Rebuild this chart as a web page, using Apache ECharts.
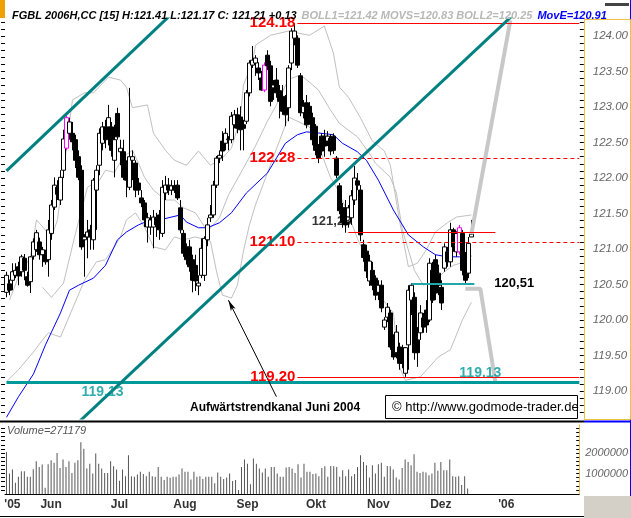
<!DOCTYPE html>
<html><head><meta charset="utf-8">
<script src="https://cdn.jsdelivr.net/npm/echarts@6/dist/echarts.min.js"></script>
<style>html,body{margin:0;padding:0;background:#fff;}#c{width:631px;height:518px;}</style>
</head><body><div id="c"></div><script>
// ---------- DATA ----------
const N = 193; // category slots (trading days + future space)
const monthTicks = [[2,"'05"],[15,'Jun'],[38,'Jul'],[60,'Aug'],[81,'Sep'],[104,'Okt'],[125,'Nov'],[146,'Dez'],[168,"'06"]];
const priceLabels = [119,119.5,120,120.5,121,121.5,122,122.5,123,123.5,124];
const volLabels = [1000000,2000000];

const opens = [120.39,120.51,120.56,120.63,120.75,120.68,120.87,120.61,120.54,120.90,
120.99,121.10,120.92,120.92,120.85,121.22,121.59,121.87,121.69,122.11,
122.42,122.63,122.63,122.54,122.30,122.11,121.13,121.17,121.27,121.13,
121.83,122.18,122.49,122.72,122.72,122.72,122.25,122.91,122.37,122.37,
122.18,121.87,122.25,122.21,121.93,121.72,121.65,121.31,121.31,121.31,
121.44,121.48,121.22,121.79,121.90,121.83,121.89,121.90,121.58,121.22,
121.03,121.03,120.85,120.77,120.48,120.63,120.63,121.13,121.44,121.48,
121.90,122.28,122.52,122.49,122.54,122.54,122.75,122.89,122.86,122.75,
122.80,123.20,123.59,123.62,123.55,123.41,123.24,123.73,123.58,123.27,
123.38,123.23,123.15,123.08,122.99,123.62,123.97,123.97,123.44,122.92,
123.06,123.01,122.85,122.73,122.39,122.59,122.59,122.52,122.56,122.59,
122.28,121.89,121.58,121.58,121.38,121.44,121.69,121.96,121.83,121.06,
120.97,120.55,120.70,120.59,120.39,120.49,119.90,120.04,120.10,119.72,
119.54,119.62,119.61,119.25,119.65,120.28,120.32,119.72,119.82,120.03,
120.14,120.00,120.70,120.85,120.66,120.46,120.73,120.96,120.82,121.27,
120.96,120.96,121.22,120.89,120.66,121.17];
const closes = [120.63,120.42,120.68,120.70,120.62,120.89,120.70,120.49,120.89,121.10,
121.23,120.92,120.99,120.82,121.27,121.62,121.90,121.77,122.01,122.55,
122.85,122.79,122.51,122.25,122.01,121.03,121.17,121.24,121.17,121.97,
122.11,122.63,122.72,122.54,122.85,122.39,122.54,122.58,122.42,122.01,
121.97,122.30,122.30,121.83,121.83,121.65,121.41,121.44,121.41,121.45,
121.34,121.27,121.87,121.90,121.83,121.89,121.83,121.72,121.27,120.94,
120.85,120.75,120.56,120.55,120.52,121.01,121.15,121.34,121.48,121.90,
122.28,122.32,122.38,122.63,122.55,122.87,122.89,122.70,122.68,122.70,
123.20,123.62,123.66,123.69,123.48,123.24,123.59,123.58,123.08,123.31,
123.20,123.08,122.94,122.89,123.55,124.07,124.07,123.59,122.92,123.01,
122.75,122.82,122.54,122.39,122.28,122.38,122.45,122.59,122.38,122.39,
122.04,121.54,121.37,121.34,121.58,121.75,122.00,121.90,121.20,120.88,
120.69,120.83,120.49,120.35,120.49,120.17,120.00,120.18,119.62,119.48,
119.83,119.39,119.39,119.61,120.42,120.49,119.54,119.54,120.10,119.90,
119.93,120.80,120.28,120.38,120.49,120.24,121.03,120.82,121.27,121.03,
121.22,121.30,120.70,120.56,121.08,121.21];
const lows = [120.32,120.35,120.42,120.59,120.49,120.61,120.56,120.47,120.38,120.85,
120.96,120.85,120.75,120.78,120.61,121.13,121.55,121.69,121.62,122.00,
122.39,122.54,122.39,122.14,121.97,120.99,120.61,120.87,120.99,120.99,
121.27,122.04,122.39,122.42,122.46,122.30,122.01,122.54,122.18,121.97,
121.73,121.83,121.97,121.73,121.76,121.59,121.31,121.09,121.20,121.01,
121.17,121.13,121.17,121.69,121.76,121.76,121.79,121.69,121.22,120.89,
120.78,120.68,120.39,120.41,120.35,120.59,120.55,121.04,121.38,121.44,
121.86,122.21,122.24,122.39,122.39,122.49,122.70,122.63,122.39,122.39,
122.76,123.15,123.55,123.44,123.38,123.23,123.21,123.52,123.01,123.10,
123.13,122.84,122.89,122.73,122.80,123.52,123.87,123.55,122.87,122.84,
122.70,122.75,122.46,122.32,122.21,122.32,122.30,122.45,122.32,122.34,
122.00,121.49,121.30,121.23,121.30,121.34,121.62,121.83,121.11,120.82,
120.59,120.48,120.42,120.28,120.28,120.11,119.86,119.97,119.58,119.44,
119.46,119.30,119.32,119.20,119.30,120.07,119.44,119.34,119.72,119.82,
119.82,119.97,120.24,120.28,120.35,120.14,120.68,120.75,120.75,120.96,
120.89,120.92,120.63,120.51,120.59,121.17];
const highs = [120.68,120.57,120.80,120.80,120.82,120.92,120.93,120.68,120.90,121.15,
121.27,121.16,121.03,120.99,121.41,121.69,122.01,121.97,122.11,122.68,
122.89,122.85,122.79,122.61,122.39,122.18,121.21,121.41,121.34,122.00,
122.18,122.70,122.79,122.82,123.03,122.79,122.75,122.99,122.54,122.54,
122.25,123.27,122.39,122.25,122.00,121.83,121.69,121.51,121.48,121.55,
121.51,121.55,121.97,122.03,122.00,121.97,121.97,121.97,121.69,121.27,
121.08,121.13,120.92,120.92,120.63,121.15,121.18,121.44,121.62,121.96,
122.31,122.39,122.66,122.70,122.59,122.93,122.96,122.99,123.01,122.82,
123.24,123.66,123.86,123.73,123.63,123.51,123.63,123.80,123.65,123.38,
123.55,123.31,123.31,123.17,123.59,124.11,124.18,124.01,123.48,123.10,
123.17,123.07,122.92,122.76,122.48,122.63,122.68,122.66,122.62,122.63,
122.31,121.93,121.65,121.69,121.62,121.83,122.17,122.07,121.90,121.13,
121.06,120.92,120.82,120.63,120.56,120.56,120.04,120.24,120.14,119.80,
119.93,119.68,119.65,119.62,120.49,120.52,120.39,119.90,120.21,120.10,
120.28,120.87,120.82,120.92,120.78,120.56,121.08,121.03,121.37,121.30,
121.25,121.34,121.27,120.96,121.17,121.41];
const markedBars = [20, 86, 151]; // magenta candles

const volumes = [2050000,1000000,1190000,550000,840000,1110000,1110000,840000,840000,1210000,
1600000,1320000,1440000,310000,1450000,1650000,1520000,2000000,1270000,1680000,
1320000,1600000,1030000,1520000,1650000,2520000,2210000,1240000,1480000,1000000,
1970000,1480000,1240000,1030000,1030000,1600000,1350000,1190000,650000,1190000,
870000,1890000,870000,840000,950000,1080000,970000,870000,1080000,870000,
840000,1320000,840000,680000,840000,790000,840000,840000,950000,1240000,
1080000,1080000,710000,1080000,840000,870000,730000,840000,840000,840000,
520000,1050000,840000,730000,810000,1000000,630000,680000,190000,1320000,
1680000,1480000,470000,1730000,1480000,1240000,1050000,1240000,840000,1320000,
1320000,1000000,840000,840000,1290000,1320000,1240000,1030000,1450000,810000,
1480000,1080000,1080000,970000,1000000,870000,1270000,1350000,840000,1370000,
1350000,1320000,840000,1160000,870000,1190000,870000,970000,1320000,1890000,
1560000,1400000,810000,1400000,1000000,1450000,1530000,840000,1370000,1350000,
1190000,810000,710000,1270000,1680000,1560000,1400000,1940000,1080000,1030000,
1080000,1050000,920000,1000000,1520000,1130000,1560000,1160000,1160000,1680000,
870000,840000,870000,440000,870000,271179];

const maIdx = [0,4,9,13,18,21,24,29,33,37,40,44,48,51,58,60,64,67,71,75,80,87,93,97,100,105,109,112,117,120,124,129,134,139,143,147,151,155];
const maVal = [118.63,118.92,119.24,119.65,120.10,120.42,120.49,120.59,120.77,121.13,121.24,121.34,121.41,121.41,121.48,121.38,121.30,121.30,121.37,121.51,121.79,122.07,122.49,122.61,122.65,122.63,122.61,122.49,122.37,122.25,121.97,121.55,121.20,121.03,120.92,120.89,120.89,120.90];
const upIdx = [1,4,8,10,15,17,19,21,22,26,29,34,38,40,42,47,49,53,56,60,64,68,72,75,78,79,82,83,88,94,101,106,109,111,114,118,122,126,128,131,134,137,140,143,147,150,155];
const upVal = [120.28,120.61,120.89,121.41,121.17,121.41,122.07,122.79,123.10,123.20,123.20,123.42,123.38,123.28,122.99,123.03,122.63,122.39,122.25,122.18,122.38,122.18,122.28,122.42,122.85,123.31,123.62,123.87,124.01,124.07,124.01,124.14,123.76,123.28,123.14,122.85,122.52,122.38,122.18,121.41,120.75,120.80,120.99,121.24,121.37,121.45,121.48];
const midIdx = [12,15,19,23,27,31,33,36,39,42,44,46,49,53,56,59,63,67,71,74,79,83,87,90,94,98,101,104,108,111,117,121,123,128,130,132,136,139,143,146,149,155];
const midVal = [120.46,120.32,120.52,121.22,121.87,121.97,122.11,122.08,122.30,122.39,122.21,122.01,121.83,121.69,121.69,121.58,121.51,121.25,121.44,121.76,122.14,122.45,122.80,123.03,123.39,123.45,123.35,123.24,122.96,122.77,122.58,122.35,122.21,122.01,121.79,121.27,120.70,120.49,120.56,120.68,120.77,120.85];
const loIdx = [0,4,9,12,14,18,26,30,33,36,38,40,43,46,49,53,56,59,63,68,70,72,75,77,79,81,83,94,101,105,108,110,113,117,120,123,125,129,131,133,138,141,144,148,152,155];
const loVal = [119.13,119.30,119.55,119.72,119.82,119.76,120.56,120.82,120.85,121.03,121.17,121.41,121.51,121.31,121.03,120.99,121.17,121.13,121.17,121.11,120.69,120.35,120.31,120.49,120.97,121.34,121.62,122.86,122.72,122.35,122.01,121.87,121.59,121.15,120.87,120.49,120.31,120.10,119.34,119.15,119.20,119.34,119.48,119.58,120.00,120.25];

const chanUpper = [[0,122.10],[60,124.51]];
const chanLower = [[20,118.40],[172,124.42]];
const projUp = [[155,121.21],[168,124.22]];
const projDown = [[153,120.44],[158,120.44],[163,119.13]];
const arrowLine = [[90,118.92],[74,120.28]];

// levels: [value, fromIdx, toIdx, label]
const lvl12418 = [124.18, 97, 191, '124.18'];
const lvl12228 = [122.28, 97, 191, '122.28'];
const lvl12110 = [121.10, 97, 191, '121.10'];
const lvl11920 = [119.20, 97, 191, '119.20'];
const lvl12123 = [121.23, 114, 163, '121,23'];
const lvl12051 = [120.51, 135, 156, '120,51'];
const lvl11913 = [119.13, 0, 191, '119.13'];
const lastClose = 121.21;

// ---------- BUILD ----------
const FONT = 'Liberation Sans, Arial, sans-serif';
const cats = Array.from({length: N}, () => '');
monthTicks.forEach(([i, t]) => { cats[i] = t; });
const pairs = (a, b) => a.map((x, k) => [x, b[k]]);
const candleData = opens.map((o, i) => {
  const item = { value: [o, closes[i], lows[i], highs[i]] };
  if (markedBars.includes(i)) item.itemStyle = { color: '#fff', color0: '#fff', borderColor: '#ff00ff', borderColor0: '#ff00ff' };
  return item;
});
const priceTicks = [];
for (let v = 118.7; v <= 124.21; v += 0.1) priceTicks.push(Math.round(v * 10) / 10);
const volTicks = [];
for (let v = 200000; v <= 3300000; v += 200000) volTicks.push(v);

const redLbl = { show: true, position: 'start', distance: 2, color: '#ff0000', fontWeight: 'bold', fontSize: 15, fontFamily: FONT };
function seg(l, style, label) {
  return [{ coord: [l[1], l[0]], lineStyle: style, label: label ? Object.assign({}, label, { formatter: l[3] }) : { show: false } },
          { coord: [l[2], l[0]] }];
}

const PMIN = 118.62, PMAX = 124.24;
const chart = echarts.init(document.getElementById('c'), null, { renderer: 'canvas' });
const option = {
  animation: false,
  backgroundColor: '#fff',
  title: {
    left: 7, top: 2,
    text: '{a|FGBL 2006H,CC [15] H:121.41 L:121.17 C: 121.21 +0.13} {b|BOLL1=121.42 MOVS=120.83 BOLL2=120.25} {c|MovE=120.91}',
    textStyle: { rich: {
      a: { color: '#000', fontStyle: 'italic', fontSize: 11, fontFamily: FONT },
      b: { color: '#b8b8b8', fontStyle: 'italic', fontSize: 11, fontFamily: FONT },
      c: { color: '#0000ff', fontStyle: 'italic', fontSize: 11, fontFamily: FONT }
    } }
  },
  grid: [
    { left: 5, top: 19, width: 579, height: 399 },
    { left: 5, top: 425, width: 579, height: 69 }
  ],
  xAxis: [
    { type: 'category', gridIndex: 0, data: cats, boundaryGap: true, axisLine: { show: false }, axisTick: { show: false }, axisLabel: { show: false }, splitLine: { show: false } },
    { type: 'category', gridIndex: 1, data: cats, boundaryGap: true,
      axisLine: { show: true, lineStyle: { color: '#000', width: 1 } },
      axisTick: { show: false },
      axisLabel: { show: true, interval: 0, margin: 5, color: '#333', fontWeight: 'bold', fontSize: 12, fontFamily: FONT },
      splitLine: { show: false } }
  ],
  yAxis: [
    { type: 'value', gridIndex: 0, position: 'right', min: PMIN, max: PMAX, scale: true,
      axisLine: { show: true, lineStyle: { color: '#f0c040', width: 1 } },
      axisTick: { show: true, inside: true, length: 4, customValues: priceTicks, lineStyle: { color: '#000' } },
      axisLabel: { show: true, customValues: priceLabels, formatter: v => Number(v).toFixed(2), margin: 9, color: '#666', fontStyle: 'italic', fontSize: 11.5, fontFamily: FONT },
      splitLine: { show: false } },
    { type: 'value', gridIndex: 0, position: 'left', min: PMIN, max: PMAX, scale: true,
      axisLine: { show: false },
      axisTick: { show: true, inside: false, length: 4, customValues: priceTicks, lineStyle: { color: '#000' } },
      axisLabel: { show: false }, splitLine: { show: false } },
    { type: 'value', gridIndex: 1, position: 'right', min: 0, max: 3366000,
      axisLine: { show: true, lineStyle: { color: '#f0c040', width: 1 } },
      axisTick: { show: true, inside: true, length: 3, customValues: volTicks, lineStyle: { color: '#000' } },
      axisLabel: { show: true, customValues: volLabels, formatter: v => String(Math.round(v)), margin: 6, color: '#666', fontStyle: 'italic', fontSize: 11, fontFamily: FONT },
      splitLine: { show: false } },
    { type: 'value', gridIndex: 1, position: 'left', min: 0, max: 3366000,
      axisLine: { show: false },
      axisTick: { show: true, inside: false, length: 4, customValues: volTicks, lineStyle: { color: '#000' } },
      axisLabel: { show: false }, splitLine: { show: false } }
  ],
  series: [
    { name: 'upper', type: 'line', xAxisIndex: 0, yAxisIndex: 0, data: pairs(upIdx, upVal), symbol: 'none', lineStyle: { color: '#c0c0c0', width: 1 }, z: 1 },
    { name: 'middle', type: 'line', xAxisIndex: 0, yAxisIndex: 0, data: pairs(midIdx, midVal), symbol: 'none', lineStyle: { color: '#c0c0c0', width: 1 }, z: 1 },
    { name: 'lower', type: 'line', xAxisIndex: 0, yAxisIndex: 0, data: pairs(loIdx, loVal), symbol: 'none', lineStyle: { color: '#c0c0c0', width: 1 }, z: 1 },
    { name: 'MovE', type: 'line', xAxisIndex: 0, yAxisIndex: 0, data: pairs(maIdx, maVal), symbol: 'none', lineStyle: { color: '#0000ff', width: 1 }, z: 2 },
    { name: 'FGBL', type: 'candlestick', xAxisIndex: 0, yAxisIndex: 0, data: candleData, barWidth: 4, z: 3,
      itemStyle: { color: '#fff', color0: '#000', borderColor: '#000', borderColor0: '#000', borderWidth: 1 },
      markLine: { silent: true, symbol: 'none', animation: false,
        data: [{ yAxis: lastClose, lineStyle: { opacity: 0 },
          label: { show: true, position: 'end', distance: 1, formatter: lastClose.toFixed(2), backgroundColor: '#000', color: '#fff', padding: [2, 4, 1, 4], fontStyle: 'italic', fontSize: 11.5, fontFamily: FONT } }] } },
    { name: 'chanUpper', type: 'line', xAxisIndex: 0, yAxisIndex: 0, data: chanUpper, symbol: 'none', lineStyle: { color: '#008080', width: 3 }, z: 5 },
    { name: 'chanLower', type: 'line', xAxisIndex: 0, yAxisIndex: 0, data: chanLower, symbol: 'none', lineStyle: { color: '#008080', width: 3 }, z: 5 },
    { name: 'projUp', type: 'line', xAxisIndex: 0, yAxisIndex: 0, data: projUp, symbol: 'none', lineStyle: { color: '#c8c8c8', width: 4 }, z: 4 },
    { name: 'projDown', type: 'line', xAxisIndex: 0, yAxisIndex: 0, data: projDown, symbol: 'none', lineStyle: { color: '#c8c8c8', width: 4 }, z: 4 },
    { name: 'levels', type: 'line', xAxisIndex: 0, yAxisIndex: 0, data: [], z: 6,
      markLine: { silent: true, symbol: 'none', animation: false,
        data: [
          seg(lvl11913, { color: '#009999', width: 3, type: 'solid' }, null),
          seg(lvl12418, { color: '#ff0000', width: 1, type: 'solid' }, redLbl),
          seg(lvl12228, { color: '#ff0000', width: 1, type: [4, 3] }, redLbl),
          seg(lvl12110, { color: '#ff0000', width: 1, type: [4, 3] }, redLbl),
          seg(lvl11920, { color: '#ff0000', width: 1, type: 'solid' }, redLbl),
          seg(lvl12123, { color: '#ff0000', width: 1, type: 'solid' }, null),
          seg(lvl12051, { color: '#20a8a8', width: 2, type: 'solid' }, { show: true, position: 'end', distance: 20, color: '#000', fontWeight: 'bold', fontSize: 13, fontFamily: FONT })
        ] } },
    { name: 'arrow', type: 'line', xAxisIndex: 0, yAxisIndex: 0, data: [], z: 6,
      markLine: { silent: true, symbol: ['none', 'arrow'], symbolSize: [4, 11], animation: false,
        data: [[{ coord: arrowLine[0], lineStyle: { color: '#000', width: 1, type: 'solid' }, label: { show: false } }, { coord: arrowLine[1] }]] } },
    { name: 'notes', type: 'scatter', xAxisIndex: 0, yAxisIndex: 0, symbolSize: 0, z: 7, silent: true,
      data: [
        { value: [32, lvl11913[0]], label: { show: true, position: 'bottom', distance: 3, formatter: '119.13', color: '#009999', fontWeight: 'bold', fontSize: 14, fontFamily: FONT } },
        { value: [158, lvl11913[0]], label: { show: true, position: 'top', distance: 2, formatter: '119.13', color: '#009999', fontWeight: 'bold', fontSize: 14, fontFamily: FONT } },
        { value: [115, 121.39], label: { show: true, position: 'left', distance: 0, formatter: '121,23', color: '#000', fontWeight: 'bold', fontSize: 13, fontFamily: FONT } }
      ] },
    { name: 'Volume', type: 'bar', xAxisIndex: 1, yAxisIndex: 2, data: volumes, barWidth: 1, itemStyle: { color: '#555' } }
  ],
  graphic: [
    { type: 'rect', left: 0, top: 0, shape: { width: 5, height: 18 }, style: { fill: '#f0a000' } },
    { type: 'rect', left: 605, top: 3, shape: { width: 24, height: 3 }, style: { fill: '#444' } },
    { type: 'line', shape: { x1: 630.5, y1: 0, x2: 630.5, y2: 496 }, style: { stroke: '#0000ff', lineWidth: 1 } },
    { type: 'rect', shape: { x: 584.5, y: 19.5, width: 46, height: 400 }, style: { fill: 'none', stroke: '#f0c040', lineWidth: 1 } },
    { type: 'line', shape: { x1: 0, y1: 421.5, x2: 584, y2: 421.5 }, style: { stroke: '#000', lineWidth: 2 } },
    { type: 'line', shape: { x1: 584, y1: 421.5, x2: 631, y2: 421.5 }, style: { stroke: '#0000ff', lineWidth: 2 } },
    { type: 'line', shape: { x1: 0, y1: 516.5, x2: 584, y2: 516.5 }, style: { stroke: '#000', lineWidth: 1 } },
    { type: 'rect', shape: { x: 584, y: 496, width: 47, height: 22 }, style: { fill: '#d4d0c8' } },
    { type: 'text', left: 7, top: 425, style: { text: 'Volume=271179', fill: '#555', font: 'italic 11px ' + FONT } },
    { type: 'group', left: 385, top: 395, children: [
      { type: 'rect', shape: { x: 0.5, y: 0.5, width: 192, height: 23 }, style: { fill: '#fff', stroke: '#000', lineWidth: 1 } },
      { type: 'text', x: 7, y: 12, style: { text: '\u00a9 http://www.godmode-trader.de', fill: '#000', font: '13px ' + FONT, textVerticalAlign: 'middle' } }
    ] },
    { type: 'text', left: 190, top: 402, style: { text: 'Aufwärtstrendkanal Juni 2004', fill: '#000', font: 'bold 12px ' + FONT } }
  ]
};
chart.setOption(option);
</script></body></html>
